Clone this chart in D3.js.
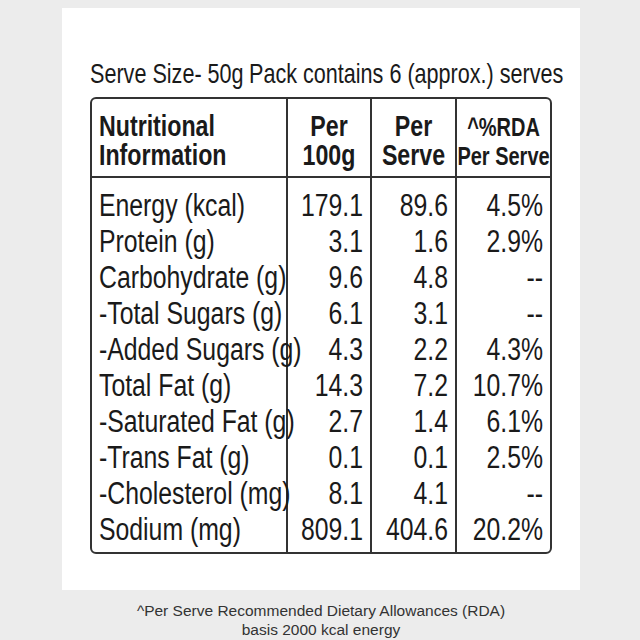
<!DOCTYPE html>
<html><head><meta charset="utf-8">
<script src="https://cdn.jsdelivr.net/npm/d3@7"></script>
<style>
body{margin:0;background:#ececec;}
text{font-family:"Liberation Sans",Arial,sans-serif;fill:#1a1a1a;}
</style></head>
<body><div id="vis"></div>
<script>
const FRAME = 640;
const NARROW = 0.8; // horizontal squeeze for condensed look
const nutrients = ['Energy (kcal)', 'Protein (g)', 'Carbohydrate (g)', '-Total Sugars (g)', '-Added Sugars (g)',
  'Total Fat (g)', '-Saturated Fat (g)', '-Trans Fat (g)', '-Cholesterol (mg)', 'Sodium (mg)'];
const per100g = ['179.1', '3.1', '9.6', '6.1', '4.3', '14.3', '2.7', '0.1', '8.1', '809.1'];
const perServe = ['89.6', '1.6', '4.8', '3.1', '2.2', '7.2', '1.4', '0.1', '4.1', '404.6'];
const rdaPct = ['4.5%', '2.9%', '--', '--', '4.3%', '10.7%', '6.1%', '2.5%', '--', '20.2%'];
const columns = ['name', 'p100', 'pserve', 'rda'];
const headers = [['Nutritional', 'Information'], ['Per', '100g'], ['Per', 'Serve'], ['^%RDA', 'Per Serve']];

const svg = d3.select('#vis').append('svg').attr('width', FRAME).attr('height', FRAME);

// condensed text: squeeze horizontally around its anchor
function ntext(x, y, str, size, anchor = 'start', weight = 'normal') {
  return svg.append('text')
    .attr('transform', `translate(${x},${y}) scale(${NARROW},1)`)
    .attr('text-anchor', anchor)
    .attr('font-size', size)
    .attr('font-weight', weight)
    .text(str);
}

// white card
svg.append('rect').attr('x', 62).attr('y', 8).attr('width', 518).attr('height', 582).attr('fill', '#fff');

ntext(90, 83, 'Serve Size- 50g', 27);
ntext(249, 83, 'Pack contains 6 (approx.) serves', 27);

const X = d3.scaleOrdinal().domain(columns).range([91, 287, 371, 456]);
const colRight = { name: 287, p100: 371, pserve: 456, rda: 551 };
const Y = d3.scaleBand().domain(nutrients).range([187, 547]);

const T = svg.append('g').attr('stroke', '#333').attr('fill', 'none').attr('stroke-width', 2);
T.append('rect').attr('x', 91).attr('y', 98).attr('width', 460).attr('height', 455).attr('rx', 5);
T.append('line').attr('x1', 91).attr('x2', 551).attr('y1', 177).attr('y2', 177);
columns.slice(1).forEach((c) => T.append('line').attr('x1', X(c)).attr('x2', X(c)).attr('y1', 98).attr('y2', 553));

// header
headers.forEach((h, i) => {
  const c = columns[i];
  h.forEach((line, j) => {
    ntext(i === 0 ? 99 : (X(c) + colRight[c]) / 2, 136 + j * 29, line,
      i === 3 ? 25 : 29, i === 0 ? 'start' : 'middle', 'bold');
  });
});

const rows = nutrients.map((n, i) => ({ name: n, p100: per100g[i], pserve: perServe[i], rda: rdaPct[i] }));
rows.forEach((d) => {
  const y = Y(d.name) + Y.bandwidth() / 2 + 11;
  columns.forEach((c) => {
    ntext(c === 'name' ? 99 : colRight[c] - 8, y, d[c], 31, c === 'name' ? 'start' : 'end');
  });
});

// footnote
const foot = svg.append('g').attr('font-size', 15.5).attr('text-anchor', 'middle');
foot.append('text').attr('x', 321).attr('y', 616).style('fill', '#333')
  .text('^Per Serve Recommended Dietary Allowances (RDA)');
foot.append('text').attr('x', 321).attr('y', 635).style('fill', '#333')
  .text('basis 2000 kcal energy');
</script></body></html>
